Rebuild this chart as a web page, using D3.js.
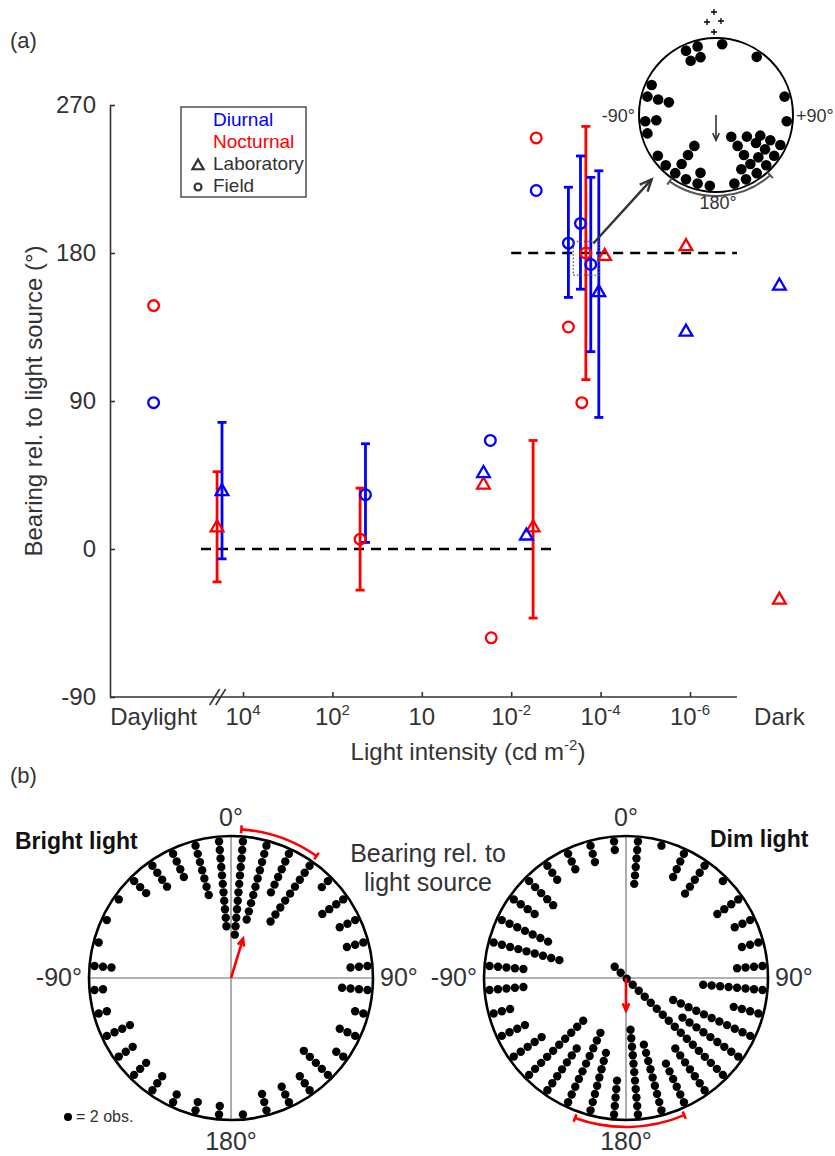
<!DOCTYPE html>
<html>
<head>
<meta charset="utf-8">
<script src="https://cdn.jsdelivr.net/npm/d3@7"></script>
<style>
  body { margin: 0; background: #fff; }
  svg text { font-family: "Liberation Sans", Arial, Helvetica, sans-serif; fill: #333; }
</style>
</head>
<body>
<div id="chart-area"></div>
<script>
// ---------- data, panel (a) ----------
// light intensity as log10(cd m-2); Daylight sits at 6 and Dark at -8
let xTickValues = [4, 2, 1, -2, -4, -6];
let xTickExponents = ["4", "2", "", "-2", "-4", "-6"];
let xCategoryValues = [6, -8];
let xCategoryLabels = ["Daylight", "Dark"];
let yTickValues = [-90, 0, 90, 180, 270];

// rows: [log10 intensity, mean bearing, lower, upper]  (null = no error bar)
let diurnalLab = [
  [4.47, 35, -6, 77],
  [-1.07, 46, null, null],
  [-2.34, 8, null, null],
  [-3.96, 156, 80, 230],
  [-5.91, 132, null, null],
  [-8, 160, null, null]
];
let diurnalField = [
  [6, 89, null, null],
  [1.63, 33, 4, 64],
  [-1.30, 66, null, null],
  [-2.56, 218, null, null],
  [-3.28, 186, 153, 220],
  [-3.55, 198, 158, 239],
  [-3.78, 173, 120, 226]
];
let nocturnalLab = [
  [4.58, 13, -20, 47],
  [-1.07, 39, null, null],
  [-2.49, 13, -42, 66],
  [-4.09, 178, null, null],
  [-5.91, 184, null, null],
  [-8, -31, null, null]
];
let nocturnalField = [
  [6, 148, null, null],
  [1.69, 6, -25, 37],
  [-1.33, -54, null, null],
  [-2.56, 250, null, null],
  [-3.28, 135, null, null],
  [-3.58, 89, null, null],
  [-3.67, 180, 103, 257]
];
let legendLabels = ["Diurnal", "Nocturnal", "Laboratory", "Field"];

// dashed reference lines: [bearing, from, to] in log10 intensity
let refLines = [[0, 4.94, -2.96], [180, -2, -7.05]];
// part of the plot shown in the inset: [log10 range], [bearing range]
let insetWindow = [[-3.39, -3.97], [166.5, 187]];

// ---------- data, circular plots ----------
let insetBins   = [5, 35, 75, 95, 115, 125, 135, 145, 155, 165, 185, 195, 205, 215, 225, 235, 255, 265, 285, 295, 335, 345];
let insetCounts = [1, 1, 1, 1, 3, 4, 2, 5, 2, 1, 1, 2, 1, 4, 1, 1, 1, 2, 3, 1, 2, 2];
let insetMean = [180, 0.33];
let insetCI = [138, 215];

let circleBins = [5, 15, 25, 35, 45, 55, 65, 75, 85, 95, 105, 115, 125, 135, 145, 155, 165, 175,
                  185, 195, 205, 215, 225, 235, 245, 255, 265, 275, 285, 295, 305, 315, 325, 335, 345, 355];
let brightCounts = [12, 10, 6, 9, 2, 4, 3, 3, 3, 4, 2, 3, 2, 5, 3, 3, 3, 1,
                    2, 2, 2, 3, 3, 3, 4, 2, 2, 3, 1, 1, 1, 3, 4, 4, 7, 11];
let dimCounts = [6, 1, 4, 5, 1, 4, 3, 3, 4, 8, 4, 11, 9, 19, 7, 6, 9, 11,
                 5, 8, 10, 7, 10, 5, 4, 3, 5, 5, 9, 7, 4, 5, 3, 3, 3, 2];
let brightMean = [17, 0.29];
let dimMean = [180, 0.23];
let brightCI = [4, 35];
let dimCI = [157, 200];

// ---------- setup ----------
const width = 835, height = 1156;
const blue = "#0000ff", red = "#ff0000", ink = "#333";
const svg = d3.select("#chart-area").append("svg")
  .attr("width", width).attr("height", height);

let x = d3.scaleLinear()
  .domain(xTickValues)
  .range(xTickValues.map((d, i) => 243 + i * 89.4));
let y = d3.scaleLinear().domain([-90, 270]).range([697, 105]);
const axisLeftX = 110, axisEnd = -7.05, breakAt = 4.5;

svg.append("text").attr("x", 10).attr("y", 48).style("font-size", "22px").text("(a)");
svg.append("text").attr("x", 10).attr("y", 783).style("font-size", "22px").text("(b)");

// y axis
svg.append("g")
  .attr("transform", "translate(" + axisLeftX + ",0)")
  .call(d3.axisLeft(y).tickValues(yTickValues).tickFormat(d => String(d))
    .tickSizeInner(-5).tickSizeOuter(0).tickPadding(14))
  .call(g => g.selectAll("text").style("font-size", "24px").attr("fill", ink))
  .call(g => g.selectAll("line,path").attr("stroke", ink).attr("stroke-width", 1.6));

svg.append("text")
  .attr("transform", "translate(42," + y(90) + ") rotate(-90)")
  .attr("text-anchor", "middle").style("font-size", "24px")
  .text("Bearing rel. to light source (°)");

// x axis
let xAxisG = svg.append("g").attr("transform", "translate(0," + y(-90) + ")")
  .call(d3.axisBottom(x).tickValues(xTickValues).tickSizeInner(-5).tickSizeOuter(0).tickFormat(""));
xAxisG.select(".domain").remove();
xAxisG.selectAll("line").attr("stroke", ink).attr("stroke-width", 1.6);
xAxisG.append("line").attr("x1", axisLeftX).attr("x2", x(axisEnd))
  .attr("stroke", ink).attr("stroke-width", 1.6);
[-6, 0].forEach(off => {
  xAxisG.append("line")
    .attr("x1", x(breakAt) + off - 5).attr("y1", 8)
    .attr("x2", x(breakAt) + off + 5).attr("y2", -8)
    .attr("stroke", ink).attr("stroke-width", 1.6);
});

let xLab = svg.append("g").selectAll("text").data(xTickValues).enter().append("text")
  .attr("x", d => x(d)).attr("y", 725)
  .attr("text-anchor", "middle").style("font-size", "24px");
xLab.append("tspan").text("10");
xLab.append("tspan").attr("dy", -10).style("font-size", "15px").text((d, i) => xTickExponents[i]);

svg.append("g").selectAll("text").data(xCategoryValues).enter().append("text")
  .attr("x", d => x(d)).attr("y", 725)
  .attr("text-anchor", "middle").style("font-size", "24px")
  .text((d, i) => xCategoryLabels[i]);

let xTitle = svg.append("text").attr("x", 468).attr("y", 760)
  .attr("text-anchor", "middle").style("font-size", "24px");
xTitle.append("tspan").text("Light intensity (cd m");
xTitle.append("tspan").attr("dy", -10).style("font-size", "15px").text("-2");
xTitle.append("tspan").attr("dy", 10).text(")");

// dashed reference lines
svg.append("g").selectAll("line").data(refLines).enter().append("line")
  .attr("x1", d => x(d[1])).attr("x2", d => x(d[2]))
  .attr("y1", d => y(d[0])).attr("y2", d => y(d[0]))
  .attr("stroke", "#000").attr("stroke-width", 2.6).attr("stroke-dasharray", "10,7");

// error bars, then markers
function drawBars(data, color) {
  const g = svg.append("g");
  const rows = data.filter(d => d[2] !== null);
  g.selectAll(".bar").data(rows).enter().append("line")
    .attr("x1", d => x(d[0])).attr("x2", d => x(d[0]))
    .attr("y1", d => y(d[2])).attr("y2", d => y(d[3]))
    .attr("stroke", color).attr("stroke-width", 2.8);
  [2, 3].forEach(j => {
    g.selectAll(".cap" + j).data(rows).enter().append("line")
      .attr("x1", d => x(d[0]) - 4.5).attr("x2", d => x(d[0]) + 4.5)
      .attr("y1", d => y(d[j])).attr("y2", d => y(d[j]))
      .attr("stroke", color).attr("stroke-width", 2.8);
  });
}
function drawMarks(data, color, type) {
  const size = type === d3.symbolTriangle ? 70 : 90;
  svg.append("g").selectAll("path").data(data).enter().append("path")
    .attr("d", d3.symbol().type(type).size(size))
    .attr("transform", d => "translate(" + x(d[0]) + "," + y(d[1]) + ")")
    .attr("fill", "none").attr("stroke", color).attr("stroke-width", 2.3);
}
drawBars(nocturnalLab, red);
drawBars(nocturnalField, red);
drawBars(diurnalLab, blue);
drawBars(diurnalField, blue);
drawMarks(nocturnalLab, red, d3.symbolTriangle);
drawMarks(nocturnalField, red, d3.symbolCircle);
drawMarks(diurnalLab, blue, d3.symbolTriangle);
drawMarks(diurnalField, blue, d3.symbolCircle);

// legend
let legend = svg.append("g").attr("transform", "translate(181,107)");
legend.append("rect").attr("width", 125).attr("height", 90)
  .attr("fill", "#fff").attr("stroke", ink).attr("stroke-width", 1.3);
legend.selectAll("text").data(legendLabels).enter().append("text")
  .attr("x", 32).attr("y", (d, i) => 19 + i * 22)
  .style("font-size", "19px")
  .style("fill", (d, i) => i === 0 ? blue : i === 1 ? red : ink)
  .text(d => d);
legend.append("path").attr("d", d3.symbol().type(d3.symbolTriangle).size(55))
  .attr("transform", "translate(17,59)").attr("fill", "none").attr("stroke", ink).attr("stroke-width", 2.2);
legend.append("path").attr("d", d3.symbol().type(d3.symbolCircle).size(38))
  .attr("transform", "translate(17,80)").attr("fill", "none").attr("stroke", ink).attr("stroke-width", 2.2);

// ---------- circular plots ----------
const angle = d3.scaleLinear().domain([0, 360]).range([0, 2 * Math.PI]);

function drawArrow(g, x1, y1, x2, y2, color, w, headLen) {
  g.append("line").attr("x1", x1).attr("y1", y1).attr("x2", x2).attr("y2", y2)
    .attr("stroke", color).attr("stroke-width", w);
  const a = Math.atan2(y2 - y1, x2 - x1);
  const head = [a + 0.42, a - 0.42].map(t => [x2 - headLen * Math.cos(t), y2 - headLen * Math.sin(t)]);
  g.append("path").attr("d", "M" + head[0] + "L" + x2 + "," + y2 + "L" + head[1])
    .attr("fill", "none").attr("stroke", color).attr("stroke-width", w);
}

function drawCircular(cx, cy, R, bins, counts, mean, ci, opt) {
  const g = svg.append("g").attr("transform", "translate(" + cx + "," + cy + ")");
  const stack = d3.scaleLinear().domain([0, 1]).range([opt.outer, opt.outer - opt.step]);
  if (opt.cross) {
    g.append("line").attr("x1", -R).attr("x2", R).attr("stroke", "#999").attr("stroke-width", 1.6);
    g.append("line").attr("y1", -R).attr("y2", R).attr("stroke", "#999").attr("stroke-width", 1.6);
  }
  const dots = [];
  bins.forEach((b, i) => d3.range(counts[i]).forEach(k => dots.push([b, k])));
  g.selectAll("circle.dot").data(dots).enter().append("circle")
    .attr("class", "dot")
    .attr("cx", d => d3.pointRadial(angle(d[0]), stack(d[1]))[0])
    .attr("cy", d => d3.pointRadial(angle(d[0]), stack(d[1]))[1])
    .attr("r", opt.dotR).attr("fill", "#000");
  g.append("circle").attr("r", R).attr("fill", "none")
    .attr("stroke", "#000").attr("stroke-width", opt.rimW);

  // confidence arc with end caps
  const p = d3.path();
  p.arc(0, 0, opt.arcR, angle(ci[0]) - Math.PI / 2, angle(ci[1]) - Math.PI / 2);
  g.append("path").attr("d", p.toString()).attr("fill", "none")
    .attr("stroke", opt.arcColor).attr("stroke-width", opt.arcW);
  ci.forEach(c => {
    const p0 = d3.pointRadial(angle(c), opt.arcR - 4), p1 = d3.pointRadial(angle(c), opt.arcR + 4);
    g.append("line").attr("x1", p0[0]).attr("y1", p0[1]).attr("x2", p1[0]).attr("y2", p1[1])
      .attr("stroke", opt.arcColor).attr("stroke-width", opt.arcW);
  });

  // mean vector
  const tip = d3.pointRadial(angle(mean[0]), mean[1] * R);
  drawArrow(g, 0, 0, tip[0], tip[1], opt.arrowColor, opt.arrowW, 8);
  return g;
}

// inset of panel (a)
const inset = {cx: 716, cy: 115, r: 77};
let insetG = drawCircular(inset.cx, inset.cy, inset.r, insetBins, insetCounts, insetMean, insetCI, {
  outer: 71, step: 11.1, dotR: 5.3, rimW: 2, cross: false,
  arcR: 81, arcW: 2, arcColor: "#555", arrowColor: "#333", arrowW: 1.6
});
insetG.append("text").attr("x", -inset.r - 4).attr("y", 7).attr("text-anchor", "end")
  .style("font-size", "18px").text("-90°");
insetG.append("text").attr("x", inset.r + 3).attr("y", 7).attr("text-anchor", "start")
  .style("font-size", "18px").text("+90°");
insetG.append("text").attr("x", 2).attr("y", inset.r + 17).attr("text-anchor", "middle")
  .style("font-size", "18px").text("180°");
[[-2, -103], [-9, -93], [5, -94], [-2, -83]].forEach(c => {
  insetG.append("path").attr("d", "M" + (c[0] - 3) + "," + c[1] + "h6M" + c[0] + "," + (c[1] - 3) + "v6")
    .attr("stroke", "#000").attr("stroke-width", 1.3);
});

// inset window and link arrow
let wx0 = x(insetWindow[0][0]), wx1 = x(insetWindow[0][1]);
let wy0 = y(insetWindow[1][1]), wy1 = y(insetWindow[1][0]);
svg.append("rect").attr("x", wx0).attr("y", wy0).attr("width", wx1 - wx0).attr("height", wy1 - wy0)
  .attr("fill", "none").attr("stroke", "#555").attr("stroke-width", 1.3).attr("stroke-dasharray", "1.5,2");
let linkEnd = d3.pointRadial(angle(225), inset.r + 14);
drawArrow(svg, wx1 - 6, wy0 + 2, inset.cx + linkEnd[0], inset.cy + linkEnd[1], "#333", 2.4, 13);

// panel (b)
const big = {r: 142, cy: 978, left: 231, right: 626};
const bigOpt = {
  outer: 137, step: 8.5, dotR: 4.2, rimW: 2.6, cross: true,
  arcR: 149, arcW: 2.6, arcColor: red, arrowColor: red, arrowW: 2.6
};
drawCircular(big.left, big.cy, big.r, circleBins, brightCounts, brightMean, brightCI, bigOpt);
drawCircular(big.right, big.cy, big.r, circleBins, dimCounts, dimMean, dimCI, bigOpt);

[big.left, big.right].forEach(cx => {
  let lab = svg.append("g").style("font-size", "25px");
  lab.append("text").attr("x", cx).attr("y", big.cy - big.r - 10).attr("text-anchor", "middle").text("0°");
  lab.append("text").attr("x", cx).attr("y", big.cy + big.r + 30).attr("text-anchor", "middle").text("180°");
  lab.append("text").attr("x", cx + big.r + 7).attr("y", big.cy + 8).attr("text-anchor", "start").text("90°");
  lab.append("text").attr("x", cx - big.r - 7).attr("y", big.cy + 8).attr("text-anchor", "end").text("-90°");
});

svg.append("text").attr("x", 15).attr("y", 849).style("font-size", "23px")
  .style("font-weight", "bold").style("fill", "#111").text("Bright light");
svg.append("text").attr("x", 710).attr("y", 847).style("font-size", "23px")
  .style("font-weight", "bold").style("fill", "#111").text("Dim light");
svg.append("text").attr("x", 428).attr("y", 862).attr("text-anchor", "middle")
  .style("font-size", "25px").text("Bearing rel. to");
svg.append("text").attr("x", 428).attr("y", 891).attr("text-anchor", "middle")
  .style("font-size", "25px").text("light source");

svg.append("circle").attr("cx", 68).attr("cy", 1117).attr("r", 4).attr("fill", "#000");
svg.append("text").attr("x", 76).attr("y", 1122).style("font-size", "16px").text("= 2 obs.");
</script>
</body>
</html>
